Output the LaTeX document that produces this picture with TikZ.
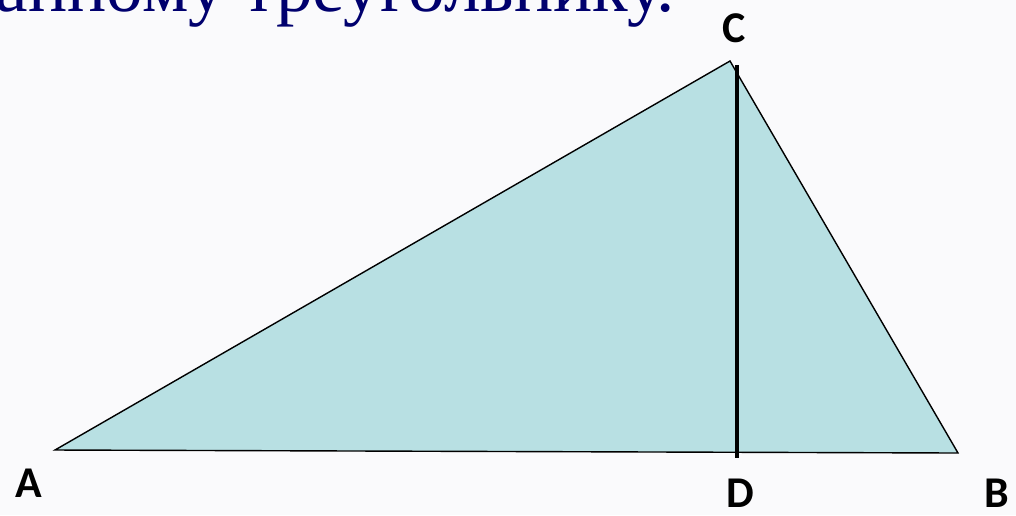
\documentclass[tikz,border=0pt]{standalone}
\usepackage{fontspec}
\setmainfont{Liberation Serif}
\newfontfamily\labelfont{Carlito}
\usetikzlibrary{positioning}
\definecolor{SlideBack}{RGB}{250,250,252}
\definecolor{TriangleFill}{RGB}{184,224,227}
\definecolor{TitleBlue}{RGB}{0,0,110}
\tikzset{
  vertexlabel/.style={font=\labelfont\bfseries\fontsize{25}{30}\selectfont,
    text=black,inner sep=0pt},
  titletext/.style={font=\fontsize{41.7}{50}\selectfont,text=TitleBlue,
    inner sep=0pt,anchor=base east},
  side/.style={draw=black,fill=TriangleFill,line width=0.8pt,line join=miter},
  altitude/.style={draw=black,line width=2.8pt}
}

\begin{document}
\begin{tikzpicture}[x=0.02cm,y=-0.02cm]
  \useasboundingbox (0,0) rectangle (1016,515);
  \fill[SlideBack] (0,0) rectangle (1016,515);
  \begin{scope}
    \clip (0,0) rectangle (1016,515);
    \node[titletext] (title) at (675,11) {данному треугольнику.};
  \end{scope}
  \coordinate (a) at (55,450);
  \coordinate (b) at (958,453);
  \coordinate (c) at (730,61);
  \coordinate (h) at (737,65);
  \coordinate (d) at (737,458);
  \draw[side] (a) -- (b) -- (c) -- cycle;
  \draw[altitude] (h) -- (d);
  \node[vertexlabel] (labela) at (29,483) {A};
  \node[vertexlabel] (labelb) at (997,493) {B};
  \node[vertexlabel] (labelc) at (734,28) {C};
  \node[vertexlabel] (labeld) at (740,493) {D};
\end{tikzpicture}
\end{document}
